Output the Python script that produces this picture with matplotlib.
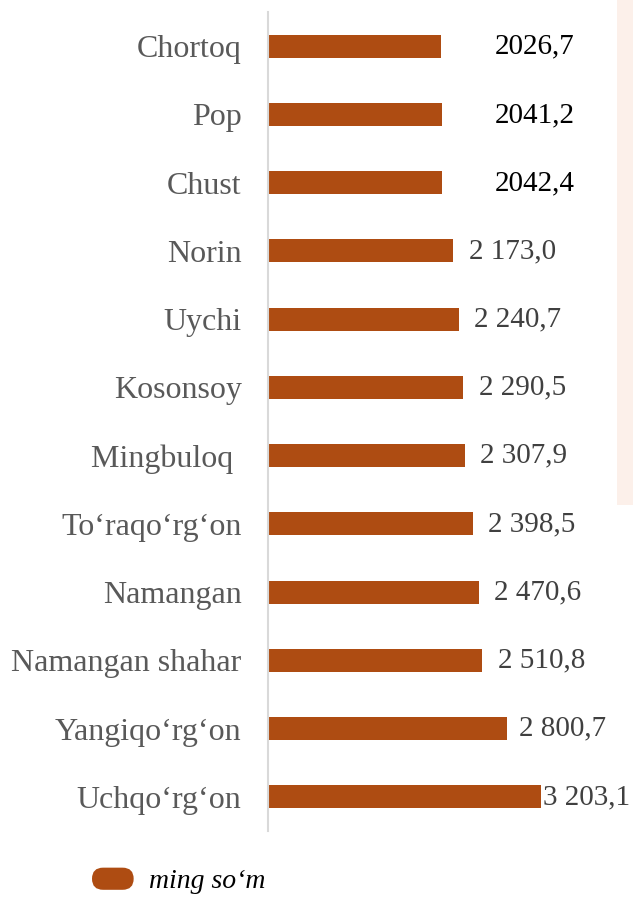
import matplotlib.pyplot as plt
from matplotlib.patches import FancyBboxPatch, Rectangle
from matplotlib.container import BarContainer
from matplotlib.legend_handler import HandlerPatch

plt.rcParams['font.family'] = ['Liberation Serif', 'DejaVu Serif']

districts = ['Chortoq', 'Pop', 'Chust', 'Norin', 'Uychi', 'Kosonsoy', 'Mingbuloq ',
             'To‘raqo‘rg‘on', 'Namangan', 'Namangan shahar', 'Yangiqo‘rg‘on', 'Uchqo‘rg‘on']
values = [2026.7, 2041.2, 2042.4, 2173.0, 2240.7, 2290.5, 2307.9,
          2398.5, 2470.6, 2510.8, 2800.7, 3203.1]
value_labels = ['2026,7', '2041,2', '2042,4', '2 173,0', '2 240,7', '2 290,5', '2 307,9',
                '2 398,5', '2 470,6', '2 510,8', '2 800,7', '3 203,1']
series_name = 'ming so‘m'

bar_color = '#AE4C12'


class RoundHandler(HandlerPatch):
    # rounded legend key like in the original
    def create_artists(self, legend, orig_handle, xdescent, ydescent,
                       width, height, fontsize, trans):
        p = FancyBboxPatch((-xdescent, -ydescent), width, height,
                           boxstyle='round,pad=0,rounding_size=%f' % (height * 0.5),
                           facecolor=bar_color, edgecolor='none', transform=trans)
        return [p]


fig = plt.figure(figsize=(6.33, 9.22), dpi=100)
ax = fig.add_axes([268 / 633, 1 - 831 / 922, (617 - 268) / 633, (831 - 12) / 922])

pos = list(range(len(districts)))
bars = ax.barh(pos, values, height=0.34, color=bar_color, label=series_name)
ax.set_ylim(len(districts) - 0.5, -0.5)
ax.set_xlim(0, 4090)

ax.set_yticks(pos)
ax.set_yticklabels(districts, fontsize=23, color='#595959')
ax.tick_params(axis='y', length=0, pad=19)
ax.set_xticks([])
for s in ['top', 'right', 'bottom']:
    ax.spines[s].set_visible(False)
ax.spines['left'].set_color('#D9D9D9')
ax.spines['left'].set_linewidth(1.5)

for i, (v, lab) in enumerate(zip(values, value_labels)):
    if i < 3:
        ax.annotate(lab, (2660, i), xytext=(0, -0.5), textcoords='offset points',
                    va='center', ha='left', fontsize=21, color='black')
    elif i == len(values) - 1:
        ax.annotate(lab, (v, i), xytext=(1, 0), textcoords='offset points',
                    va='center', ha='left', fontsize=21, color='#404040')
    else:
        off = 9 if i == len(values) - 2 else 11
        ax.annotate(lab, (v, i), xytext=(off, 0), textcoords='offset points',
                    va='center', ha='left', fontsize=21, color='#404040')

# light panel on the right edge
fig.patches.append(Rectangle((617 / 633, 1 - 505 / 922), 16 / 633, 505 / 922,
                             transform=fig.transFigure, facecolor='#FCF0EA',
                             edgecolor='none'))

fig.legend(handles=[bars], labels=[series_name], loc='center left',
           bbox_to_anchor=(67 / 633, 1 - 881 / 922), frameon=False,
           handler_map={BarContainer: RoundHandler()},
           handlelength=1.5, handleheight=0.85, handletextpad=0.55,
           prop={'style': 'italic', 'size': 20, 'family': 'Liberation Serif'})

fig.savefig('out.png', dpi=100)
